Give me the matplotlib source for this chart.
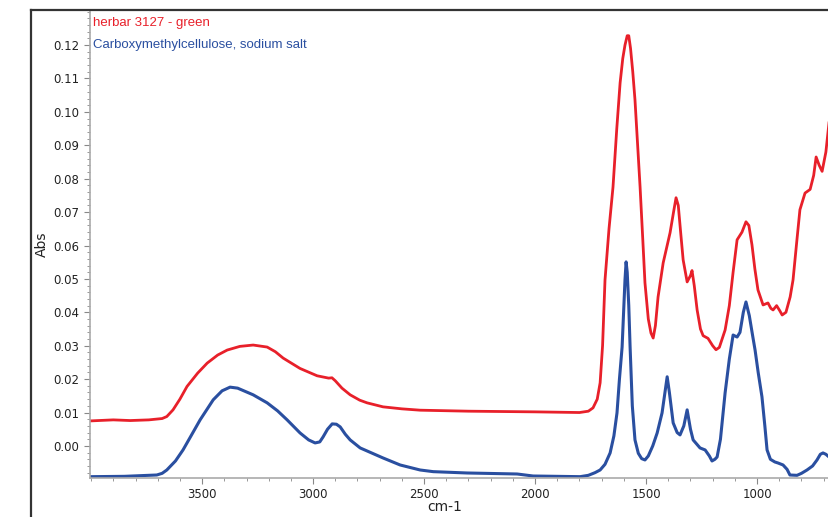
import matplotlib.pyplot as plt
from matplotlib.lines import Line2D
from matplotlib.ticker import MultipleLocator

# wavenumbers (cm-1) and absorbance
red_x = [4000, 3900, 3824, 3740, 3680, 3659, 3631, 3600, 3568, 3520, 3477, 3430,
         3387, 3330, 3270, 3207, 3170, 3135, 3059, 2982, 2930, 2915, 2900, 2870,
         2833, 2790, 2757, 2685, 2600, 2518, 2300, 2000, 1800, 1760, 1739, 1720,
         1707, 1696, 1685, 1667, 1649, 1632, 1617, 1605, 1595, 1585, 1578, 1570,
         1560, 1550, 1538, 1527, 1515, 1505, 1490, 1478, 1468, 1458, 1446, 1423,
         1392, 1375, 1365, 1355, 1343, 1333, 1315, 1300, 1293, 1283, 1270, 1255,
         1243, 1221, 1200, 1185, 1170, 1144, 1125, 1108, 1090, 1068, 1050, 1037,
         1023, 1010, 996, 973, 951, 938, 928, 912, 898, 887, 870, 851, 838, 820,
         807, 784, 761, 745, 734, 720, 707, 690, 676]
red_y = [0.0075, 0.0078, 0.0076, 0.0078, 0.0082, 0.0088, 0.0108, 0.0140, 0.0178,
         0.0218, 0.0248, 0.0272, 0.0287, 0.0298, 0.0302, 0.0296, 0.0282, 0.0263,
         0.0232, 0.0210, 0.0203, 0.0204, 0.0195, 0.0173, 0.0153, 0.0137, 0.0129,
         0.0117, 0.0111, 0.0107, 0.0104, 0.0102, 0.0100, 0.0104, 0.0114, 0.0140,
         0.0189, 0.0300, 0.0497, 0.0650, 0.0775, 0.0950, 0.1087, 0.1160, 0.1200,
         0.1228, 0.1228, 0.1190, 0.1120, 0.1036, 0.0900, 0.0775, 0.0620, 0.0488,
         0.0380, 0.0338, 0.0323, 0.0360, 0.0446, 0.0548, 0.0638, 0.0705, 0.0743,
         0.0720, 0.0630, 0.0557, 0.0491, 0.0510, 0.0525, 0.0480, 0.0407, 0.0350,
         0.0330, 0.0322, 0.0300, 0.0288, 0.0295, 0.0347, 0.0420, 0.0520, 0.0617,
         0.0640, 0.0671, 0.0660, 0.0602, 0.0530, 0.0467, 0.0422, 0.0428, 0.0412,
         0.0407, 0.0420, 0.0405, 0.0392, 0.0400, 0.0446, 0.0497, 0.0620, 0.0707,
         0.0757, 0.0768, 0.0810, 0.0865, 0.0840, 0.0822, 0.0880, 0.0967]

blue_x = [4000, 3850, 3704, 3680, 3659, 3620, 3586, 3550, 3509, 3450, 3410, 3374,
          3340, 3270, 3207, 3160, 3117, 3059, 3020, 2991, 2970, 2955, 2935, 2914,
          2895, 2878, 2855, 2833, 2788, 2685, 2608, 2518, 2459, 2306, 2081, 2009,
          1797, 1760, 1730, 1707, 1685, 1662, 1645, 1631, 1620, 1608, 1600, 1595,
          1590, 1585, 1578, 1572, 1562, 1550, 1535, 1520, 1505, 1490, 1470, 1450,
          1428, 1415, 1405, 1395, 1378, 1360, 1347, 1330, 1315, 1300, 1288, 1257,
          1234, 1215, 1203, 1190, 1180, 1165, 1144, 1125, 1108, 1090, 1077, 1062,
          1050, 1035, 1020, 1009, 995, 978, 965, 955, 940, 920, 906, 883, 865, 852,
          820, 800, 775, 750, 730, 715, 703, 690, 676]
blue_y = [-0.0092, -0.0091, -0.0087, -0.0082, -0.0072, -0.0045, -0.0012, 0.0030,
          0.0078, 0.0138, 0.0165, 0.0176, 0.0173, 0.0153, 0.0129, 0.0105, 0.0078,
          0.0039, 0.0018, 0.0009, 0.0012, 0.0027, 0.0050, 0.0066, 0.0065, 0.0057,
          0.0035, 0.0018, -0.0006, -0.0036, -0.0057, -0.0072, -0.0077, -0.0081,
          -0.0084, -0.0090, -0.0092, -0.0088, -0.0080, -0.0072, -0.0055, -0.0021,
          0.0030, 0.0099, 0.0200, 0.0296, 0.0420, 0.0497, 0.0551, 0.0520, 0.0420,
          0.0296, 0.0120, 0.0018, -0.0022, -0.0038, -0.0042, -0.0030, 0.0000,
          0.0039, 0.0099, 0.0160, 0.0207, 0.0160, 0.0069, 0.0040, 0.0033, 0.0060,
          0.0108, 0.0050, 0.0018, -0.0006, -0.0012, -0.0030, -0.0045, -0.0040,
          -0.0033, 0.0020, 0.0159, 0.0260, 0.0332, 0.0326, 0.0340, 0.0400, 0.0431,
          0.0390, 0.0330, 0.0287, 0.0220, 0.0147, 0.0060, -0.0012, -0.0040, -0.0048,
          -0.0051, -0.0057, -0.0070, -0.0087, -0.0088, -0.0082, -0.0072, -0.0060,
          -0.0042, -0.0025, -0.0021, -0.0025, -0.0033]

red_label = 'herbar 3127 - green'
blue_label = 'Carboxymethylcellulose, sodium salt'
red_col = '#e8202a'
blue_col = '#2a4fa0'

W, H = 829, 517
fig = plt.figure(figsize=(W / 100, H / 100), dpi=100, facecolor='white')
ax = fig.add_axes([90 / W, 1 - 478 / H, 1 - 90 / W, (478 - 10) / H])

ax.plot(red_x, red_y, color=red_col, lw=2)
ax.plot(blue_x, blue_y, color=blue_col, lw=2.2)

ax.set_xlim(4005, 676)
ax.set_ylim(-0.0096, 0.1305)

ax.xaxis.set_minor_locator(MultipleLocator(100))
ax.yaxis.set_minor_locator(MultipleLocator(0.002))
ax.set_xticks([3500, 3000, 2500, 2000, 1500, 1000])
ax.set_yticks([i / 100 for i in range(13)])
ax.set_yticklabels(['%.2f' % (i / 100) for i in range(13)])

for s in ['top', 'right']:
    ax.spines[s].set_visible(False)
for s in ['left', 'bottom']:
    ax.spines[s].set_color('#aaaaaa')
    ax.spines[s].set_linewidth(1.2)
ax.tick_params(which='major', length=4, color='#888888', labelsize=8.5,
               labelcolor='#222222')
ax.tick_params(which='minor', length=2, color='#888888')

ax.set_xlabel('cm-1', fontsize=10, color='#222222', va='center')
ax.xaxis.set_label_coords((445 - 90) / 739, (478 - 507) / 468)
ax.set_ylabel('Abs', fontsize=10, color='#222222', labelpad=3)

# outer frame (left and top edges)
fig.add_artist(Line2D([31 / W, 31 / W], [0, 1 - 10 / H], color='#333333', lw=1.6))
fig.add_artist(Line2D([31 / W, 1], [1 - 10 / H, 1 - 10 / H], color='#333333', lw=1.6))

fam = ['Liberation Sans', 'DejaVu Sans']
fig.text(93 / W, 1 - 23 / H, red_label, color=red_col, fontsize=9.5,
         family=fam, va='center', ha='left')
fig.text(93 / W, 1 - 45 / H, blue_label, color=blue_col, fontsize=9.5,
         family=fam, va='center', ha='left')

fig.savefig('out.png', dpi=100)
